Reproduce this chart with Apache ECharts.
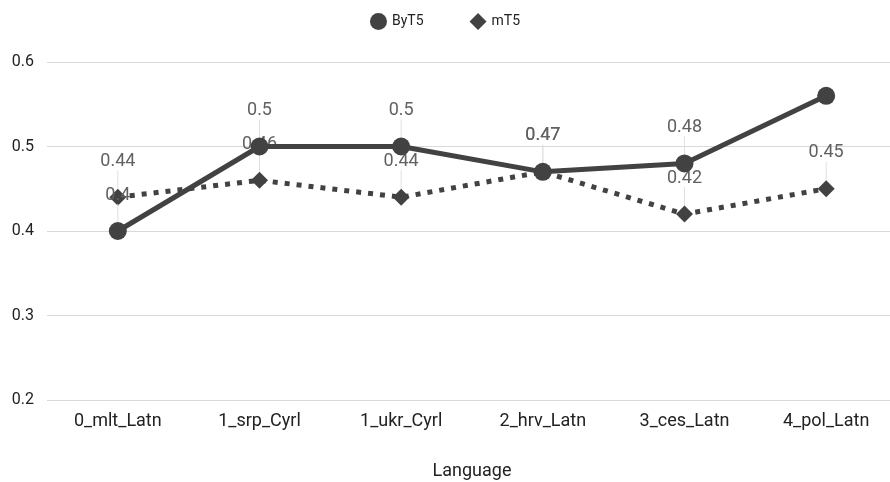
<!DOCTYPE html>
<html><head><meta charset="utf-8">
<script src="https://cdn.jsdelivr.net/npm/echarts@6/dist/echarts.min.js"></script>
<style>html,body{margin:0;padding:0;background:#fff}#c{width:890px;height:482px}</style>
</head><body><div id="c"></div>
<script>
const categories = ['0_mlt_Latn','1_srp_Cyrl','1_ukr_Cyrl','2_hrv_Latn','3_ces_Latn','4_pol_Latn'];
const byt5 = [0.4, 0.5, 0.5, 0.47, 0.48, 0.56];
const mt5 = [0.44, 0.46, 0.44, 0.47, 0.42, 0.45];
const byt5HiddenLabel = [false, false, false, false, false, true];
const yTicks = [0.2, 0.3, 0.4, 0.5, 0.6];

const chart = echarts.init(document.getElementById('c'));
const font = 'Roboto, Arial, sans-serif';
const lbl = {show:true, position:'inside', color:'#616161', fontSize:18, fontFamily:font};
const lblLine = {show:true, lineStyle:{color:'#e0e0e0', width:1}, length2:0};
chart.setOption({
  animation:false,
  textStyle:{fontFamily:font},
  legend:{top:8, left:'center', itemGap:46, itemWidth:17, itemHeight:17,
    textStyle:{fontSize:14, color:'#222', fontFamily:font},
    data:[{name:'ByT5', icon:'circle'},{name:'mT5', icon:'diamond'}]},
  grid:{left:47, top:62, width:850, height:338, containLabel:false, outerBoundsMode:'none'},
  xAxis:{type:'category', data:categories, boundaryGap:true,
    name:'Language', nameLocation:'middle', nameGap:62,
    nameTextStyle:{fontSize:18, color:'#222', fontFamily:font},
    axisLine:{show:false}, axisTick:{show:false},
    axisLabel:{fontSize:18, color:'#222', margin:12, fontFamily:font}},
  yAxis:{type:'value', min:yTicks[0], max:yTicks[yTicks.length-1], interval:0.1,
    axisLine:{show:false}, axisTick:{show:false},
    axisLabel:{fontSize:16, color:'#222', margin:13, fontFamily:font, formatter:v=>String(+v.toFixed(2))},
    splitLine:{lineStyle:{color:'#d9d9d9', width:1}}},
  series:[
    {name:'mT5', type:'line', z:2, data:mt5, symbol:'diamond', symbolSize:17,
      itemStyle:{color:'#424242'}, lineStyle:{color:'#424242', width:5, type:[5,7]},
      label:lbl, labelLine:lblLine, labelLayout:{dy:-36}},
    {name:'ByT5', type:'line', z:3, symbol:'circle', symbolSize:18,
      data:byt5.map((v,i)=>byt5HiddenLabel[i]?{value:v,label:{show:false},labelLine:{show:false}}:v),
      itemStyle:{color:'#424242'}, lineStyle:{color:'#424242', width:5},
      label:lbl, labelLine:lblLine, labelLayout:{dy:-36}}
  ]
});
</script></body></html>
